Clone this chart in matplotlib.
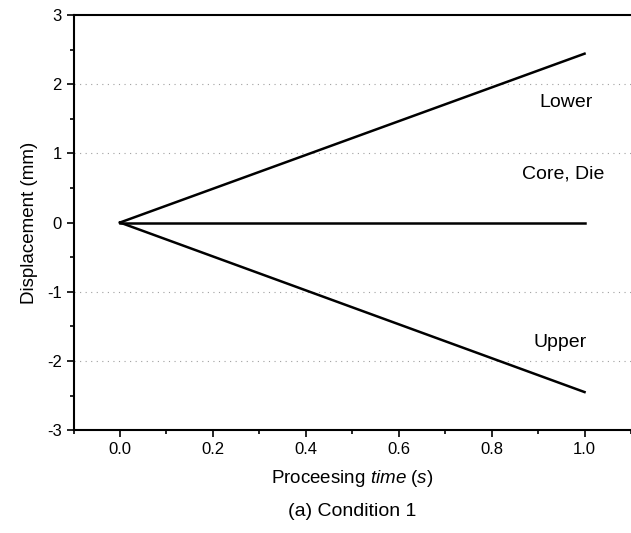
import numpy as np
import matplotlib
matplotlib.use("Agg")
import matplotlib.pyplot as plt
from matplotlib.ticker import MultipleLocator

plt.rcParams['font.family'] = ['Liberation Sans', 'DejaVu Sans']
plt.rcParams['mathtext.fontset'] = 'custom'
plt.rcParams['mathtext.rm'] = 'Liberation Sans'
plt.rcParams['mathtext.it'] = 'Liberation Sans:italic'
plt.rcParams['axes.unicode_minus'] = False

# displacement vs processing time
time = [0.0, 1.0]
lower = [0.0, 2.44]
core_die = [0.0, 0.0]
upper = [0.0, -2.45]

labels = ["Lower", "Core, Die", "Upper"]
label_x = [0.96, 0.955, 0.948]
label_y = [1.73, 0.70, -1.73]

grid_y = [-2, -1, 1, 2]

fig = plt.figure(figsize=(6.31, 5.33), dpi=100)
ax = fig.add_axes([0.1165, 0.193, 0.8835, 0.779])

for g in grid_y:
    ax.axhline(g, color="#a0a0a0", lw=0.8, ls=(0, (1, 4)), zorder=0)

ax.plot(time, lower, color="black", lw=1.8)
ax.plot(time, core_die, color="black", lw=1.8)
ax.plot(time, upper, color="black", lw=1.8)

for t, x, y in zip(labels, label_x, label_y):
    ax.text(x, y, t, ha="center", va="center", fontsize=14)

ax.set_xlim(-0.1, 1.1)
ax.set_ylim(-3, 3)
ax.xaxis.set_major_locator(MultipleLocator(0.2))
ax.xaxis.set_minor_locator(MultipleLocator(0.1))
ax.yaxis.set_major_locator(MultipleLocator(1))
ax.yaxis.set_minor_locator(MultipleLocator(0.5))
ax.xaxis.set_major_formatter(plt.FuncFormatter(lambda v, p: "%.1f" % v))
ax.yaxis.set_major_formatter(plt.FuncFormatter(lambda v, p: "%d" % round(v)))

ax.tick_params(which="both", direction="out", width=1.2, labelsize=12)
ax.tick_params(which="major", length=5)
ax.tick_params(which="minor", length=3)
ax.tick_params(top=False, right=False)

ax.spines["right"].set_visible(False)
for s in ["left", "bottom", "top"]:
    ax.spines[s].set_linewidth(1.5)

ax.set_xlabel(r"Proceesing $\mathit{time\ (s)}$", fontsize=13.5, labelpad=8)
ax.set_ylabel("Displacement (mm)", fontsize=13.5, labelpad=6)

fig.text(0.558, 0.04, "(a) Condition 1", ha="center", va="center", fontsize=14)

fig.savefig("out.png", dpi=100)
